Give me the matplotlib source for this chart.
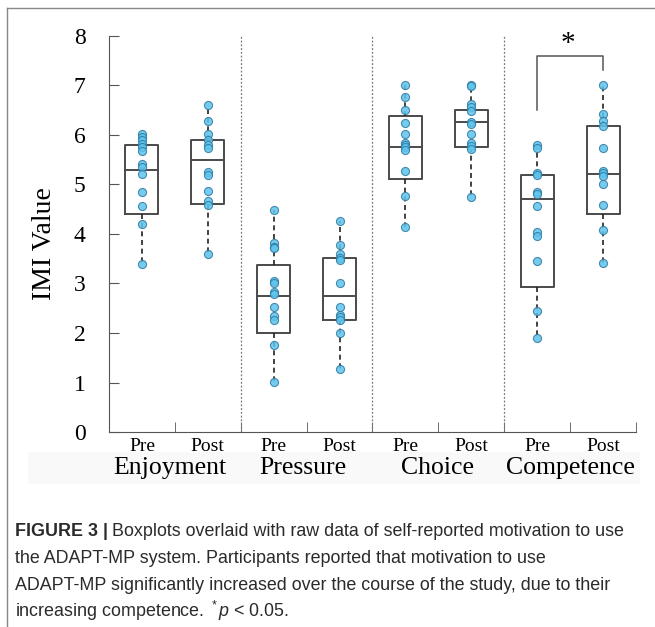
import matplotlib
matplotlib.use("Agg")
import matplotlib.pyplot as plt
import numpy as np
from matplotlib.lines import Line2D
from matplotlib.patches import Rectangle
from matplotlib import transforms

plt.rcParams['font.family'] = ['Liberation Serif', 'DejaVu Serif']
plt.rcParams['mathtext.fontset'] = 'custom'
plt.rcParams['mathtext.rm'] = 'Liberation Sans'
plt.rcParams['mathtext.it'] = 'Liberation Sans:italic'

# raw IMI scores
enj_pre = [6.02, 5.95, 5.89, 5.81, 5.75, 5.68, 5.41, 5.35, 5.21, 4.85, 4.57, 4.20, 3.39]
enj_post = [6.61, 6.29, 6.02, 5.89, 5.80, 5.73, 5.26, 5.19, 4.87, 4.67, 4.59, 3.60]
prs_pre = [4.48, 3.81, 3.74, 3.71, 3.05, 3.00, 2.83, 2.78, 2.53, 2.34, 2.26, 1.76, 1.02]
prs_post = [4.26, 3.78, 3.59, 3.52, 3.47, 3.00, 2.53, 2.36, 2.32, 2.26, 2.01, 1.27]
cho_pre = [7.00, 6.77, 6.51, 6.25, 6.02, 5.84, 5.80, 5.75, 5.70, 5.28, 4.77, 4.14]
cho_post = [7.00, 6.98, 6.63, 6.56, 6.49, 6.27, 6.22, 6.02, 5.84, 5.78, 5.71, 4.74]
com_pre = [5.80, 5.74, 5.23, 5.19, 4.85, 4.81, 4.57, 4.05, 3.96, 3.46, 2.45, 1.89]
com_post = [7.00, 6.42, 6.28, 6.18, 5.73, 5.27, 5.23, 5.17, 5.02, 4.59, 4.08, 3.41]

# box statistics as drawn in the figure
q1 = [4.40, 4.60, 2.01, 2.26, 5.12, 5.75, 2.92, 4.40]
med = [5.29, 5.49, 2.75, 2.75, 5.75, 6.26, 4.70, 5.21]
q3 = [5.80, 5.89, 3.37, 3.51, 6.38, 6.50, 5.20, 6.19]

groups = [enj_pre, enj_post, prs_pre, prs_post, cho_pre, cho_post, com_pre, com_post]
time_labels = ['Pre', 'Post'] * 4
categories = ['Enjoyment', 'Pressure', 'Choice', 'Competence']

# significance bracket (Competence Pre vs Post)
sig_pair = [7, 8]
sig_ends = [6.5, 7.31]
sig_top = 7.6

fig = plt.figure(figsize=(6.55, 6.27), dpi=100)
ax = fig.add_axes([0.1664, 0.311, 0.8046, 0.6316])

pos = np.arange(1, len(groups) + 1)

stats = []
for i, g in enumerate(groups):
    stats.append(dict(q1=q1[i], med=med[i], q3=q3[i],
                      whislo=min(g), whishi=max(g), fliers=[]))

ax.bxp(stats, positions=pos, widths=0.5, showcaps=False, showfliers=False,
       boxprops=dict(color='#4a4a4a', linewidth=1.4),
       medianprops=dict(color='#4a4a4a', linewidth=1.4),
       whiskerprops=dict(color='#222222', linewidth=1.2, linestyle=(0, (3, 2.2))))

for p, g in zip(pos, groups):
    ax.scatter(np.full(len(g), p), g, s=34, facecolor='#5ec4ec', edgecolor='#2f7aa3',
               linewidth=0.8, alpha=0.85, zorder=3)

for x in [2.5, 4.5, 6.5]:
    ax.axvline(x, color='#777777', linewidth=0.9, linestyle=(0, (1.5, 1.5)))

# bracket + star
ax.plot([sig_pair[0], sig_pair[0], sig_pair[1], sig_pair[1]],
        [sig_ends[0], sig_top, sig_top, sig_ends[1]], color='#555555', linewidth=1.1,
        clip_on=False)
ax.text(np.mean(sig_pair) - 0.03, 7.83, '*', ha='center', va='center', fontsize=21,
        clip_on=False)

ax.set_xlim(0.5, 8.5)
ax.set_ylim(0, 8)
ax.spines['top'].set_visible(False)
ax.spines['right'].set_visible(False)
ax.spines['left'].set_color('#555555')
ax.spines['bottom'].set_color('#555555')

ax.set_yticks(range(0, 9))
ax.tick_params(axis='y', direction='in', length=7, pad=17, labelsize=17, color='#555555')
ax.set_xticks(pos)
ax.set_xticklabels(time_labels)
ax.tick_params(axis='x', which='major', length=0, pad=4, labelsize=14)
ax.set_xticks(np.arange(0.5, 8.6, 1.0), minor=True)
ax.tick_params(axis='x', which='minor', direction='in', length=7, color='#555555')

ax.set_ylabel('IMI Value', fontsize=20)
ax.yaxis.set_label_coords(-0.098, 0.476)

trans = transforms.blended_transform_factory(ax.transData, ax.transAxes)
for x, c in zip([1.43, 3.44, 5.48, 7.5], categories):
    ax.text(x, -0.09, c, transform=trans, ha='center', va='center', fontsize=18.5)

# faint band behind the category names and page border
fig.add_artist(Rectangle((28 / 655, 1 - 484 / 627), 612 / 655, 32 / 627,
                         transform=fig.transFigure, facecolor='#f9f9f9',
                         edgecolor='none', zorder=-1))
fig.add_artist(Line2D([7 / 655, 7 / 655], [0, 1 - 8 / 627], transform=fig.transFigure,
                      color='#888888', linewidth=1))
fig.add_artist(Line2D([7 / 655, 1], [1 - 8 / 627, 1 - 8 / 627], transform=fig.transFigure,
                      color='#888888', linewidth=1))

# caption
cap = dict(family=['Liberation Sans', 'DejaVu Sans'], fontsize=12.9, color='#2b2b2b', va='baseline')
x0 = 15 / 655
t1 = fig.text(x0, 1 - 536 / 627, 'FIGURE 3 |', fontweight='bold', **cap)
fig.canvas.draw()
bb = t1.get_window_extent()
fig.text((bb.x1 + 4) / 655, 1 - 536 / 627,
         'Boxplots overlaid with raw data of self-reported motivation to use', **cap)
fig.text(x0, 1 - 563 / 627, 'the ADAPT-MP system. Participants reported that motivation to use', **cap)
fig.text(x0, 1 - 590 / 627, 'ADAPT-MP significantly increased over the course of the study, due to their', **cap)
fig.text(x0, 1 - 617 / 627, r'increasing competence. $^*\mathit{p}$ < 0.05.', **cap)

fig.savefig('out.png', dpi=100)
